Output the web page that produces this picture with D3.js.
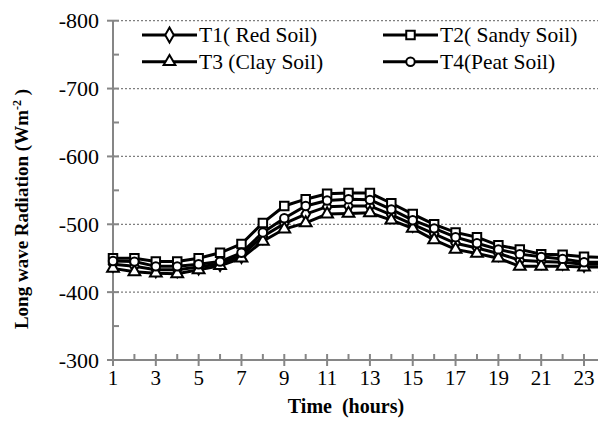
<!DOCTYPE html>
<html>
<head>
<meta charset="utf-8">
<script src="https://cdn.jsdelivr.net/npm/d3@7"></script>
<style>
    body { margin: 0; background: #fff; }
</style>
</head>
<body>
<svg id="chart"></svg>
<script>
// hours on the x axis (hour 24 sits just past the right edge)
let hours = d3.range(1, 25)
let xTickLabels = [1, 3, 5, 7, 9, 11, 13, 15, 17, 19, 21, 23]
let yTicks = [-800, -700, -600, -500, -400, -300]

// long wave radiation, W m-2
let t1Red = [-441, -438, -433, -433, -437, -442, -454, -482, -501, -515, -526, -527, -527, -514, -500, -486, -472, -465, -457, -447, -445, -444, -441, -441]
let t2Sandy = [-450, -450, -445, -445, -450, -458, -471, -502, -527, -537, -545, -546, -546, -531, -515, -500, -488, -481, -469, -463, -456, -455, -452, -451]
let t3Clay = [-435, -430, -428, -427, -433, -439, -450, -475, -493, -502, -515, -516, -517, -506, -494, -477, -463, -457, -450, -438, -438, -438, -437, -437]
let t4Peat = [-446, -445, -438, -438, -441, -445, -458, -488, -509, -527, -535, -537, -536, -522, -506, -494, -481, -472, -463, -456, -452, -449, -444, -444]

let seriesNames = ['T1( Red Soil)', 'T2( Sandy Soil)', 'T3 (Clay Soil)', 'T4(Peat Soil)']

let series = [
    { name: seriesNames[0], values: t1Red, symbol: d3.symbolDiamond, size: 64 },
    { name: seriesNames[1], values: t2Sandy, symbol: d3.symbolSquare, size: 72 },
    { name: seriesNames[2], values: t3Clay, symbol: d3.symbolTriangle, size: 60 },
    { name: seriesNames[3], values: t4Peat, symbol: d3.symbolCircle, size: 56 }
]

let width = 598, height = 425
let margin = { left: 113, top: 20.7, bottom: 65 }
let hourStep = 21.41
let serif = "'Liberation Serif', 'Times New Roman', serif"

let svg = d3.select('#chart').attr('width', width).attr('height', height)
    .attr('font-family', serif)

let x = d3.scaleLinear().domain([1, 24]).range([margin.left, margin.left + 23 * hourStep])
let y = d3.scaleLinear().domain([-800, -300]).range([margin.top, height - margin.bottom])

let axisColor = '#868686'

// dotted gridlines
svg.append('g').selectAll('line')
    .data(yTicks.filter(d => d != -300))
    .join('line')
    .attr('x1', margin.left).attr('x2', x(24))
    .attr('y1', d => y(d)).attr('y2', d => y(d))
    .style('stroke', '#7f7f7f')
    .style('stroke-width', 1.3)
    .style('stroke-dasharray', '2,2')

// y axis
let yAxis = svg.append('g').attr('transform', `translate(${margin.left},0)`)
yAxis.append('line')
    .attr('y1', y(-800)).attr('y2', y(-300))
    .style('stroke', axisColor).style('stroke-width', 2)
yAxis.selectAll('.major').data(yTicks).join('line')
    .attr('x1', -6).attr('x2', 6)
    .attr('y1', d => y(d)).attr('y2', d => y(d))
    .style('stroke', axisColor).style('stroke-width', 2)
yAxis.selectAll('.minor').data(d3.range(-750, -300, 100)).join('line')
    .attr('x1', 0).attr('x2', 6)
    .attr('y1', d => y(d)).attr('y2', d => y(d))
    .style('stroke', axisColor).style('stroke-width', 2)
yAxis.selectAll('text').data(yTicks).join('text')
    .attr('x', -14)
    .attr('y', d => y(d) + 7.5)
    .attr('text-anchor', 'end')
    .style('font-size', '22px')
    .text(d => d)

// x axis
let xAxis = svg.append('g').attr('transform', `translate(0,${y(-300)})`)
xAxis.append('line')
    .attr('x1', margin.left).attr('x2', width)
    .style('stroke', axisColor).style('stroke-width', 2)
xAxis.selectAll('.major').data(hours.filter(d => d % 2 == 1)).join('line')
    .attr('x1', d => x(d)).attr('x2', d => x(d))
    .attr('y1', -6).attr('y2', 6)
    .style('stroke', axisColor).style('stroke-width', 2)
xAxis.selectAll('.minor').data(hours.filter(d => d % 2 == 0)).join('line')
    .attr('x1', d => x(d)).attr('x2', d => x(d))
    .attr('y1', -6).attr('y2', 0)
    .style('stroke', axisColor).style('stroke-width', 2)
xAxis.selectAll('text').data(xTickLabels).join('text')
    .attr('x', d => x(d))
    .attr('y', 25)
    .attr('text-anchor', 'middle')
    .style('font-size', '21px')
    .text(d => d)

// series
let line = d3.line().x((d, i) => x(hours[i])).y(d => y(d))

series.forEach(s => {
    svg.append('path')
        .datum(s.values)
        .attr('d', line)
        .style('fill', 'none')
        .style('stroke', '#000')
        .style('stroke-width', 3)
})
series.forEach(s => {
    svg.append('g').selectAll('path')
        .data(s.values)
        .join('path')
        .attr('transform', (d, i) => `translate(${x(hours[i])},${y(d)})`)
        .attr('d', d3.symbol().type(s.symbol).size(s.size))
        .style('fill', '#fff')
        .style('stroke', '#000')
        .style('stroke-width', 2)
})

// legend
let legendPos = [[142, 35], [383, 35], [142, 61.7], [383, 61.7]]
let legend = svg.append('g')
series.forEach((s, i) => {
    let g = legend.append('g').attr('transform', `translate(${legendPos[i][0]},${legendPos[i][1]})`)
    g.append('line').attr('x1', 0).attr('x2', 55)
        .style('stroke', '#000').style('stroke-width', 3)
    g.append('path').attr('transform', 'translate(27.5,0)')
        .attr('d', d3.symbol().type(s.symbol).size(s.size))
        .style('fill', '#fff').style('stroke', '#000').style('stroke-width', 2)
    g.append('text').attr('x', 57).attr('y', 7)
        .style('font-size', '21.5px')
        .text(s.name)
})

// axis titles
let yTitle = svg.append('text')
    .attr('transform', 'translate(28,209) rotate(-90)')
    .attr('text-anchor', 'middle')
    .style('font-size', '19px')
    .style('font-weight', 'bold')
yTitle.append('tspan').text('Long wave Radiation (Wm')
yTitle.append('tspan').attr('dy', -7).style('font-size', '12px').text('-2')
yTitle.append('tspan').attr('dy', 7).text(' )')

svg.append('text')
    .attr('x', 346)
    .attr('y', 413)
    .attr('text-anchor', 'middle')
    .style('font-size', '20px')
    .style('font-weight', 'bold')
    .style('white-space', 'pre')
    .text('Time  (hours)')
</script>
</body>
</html>
